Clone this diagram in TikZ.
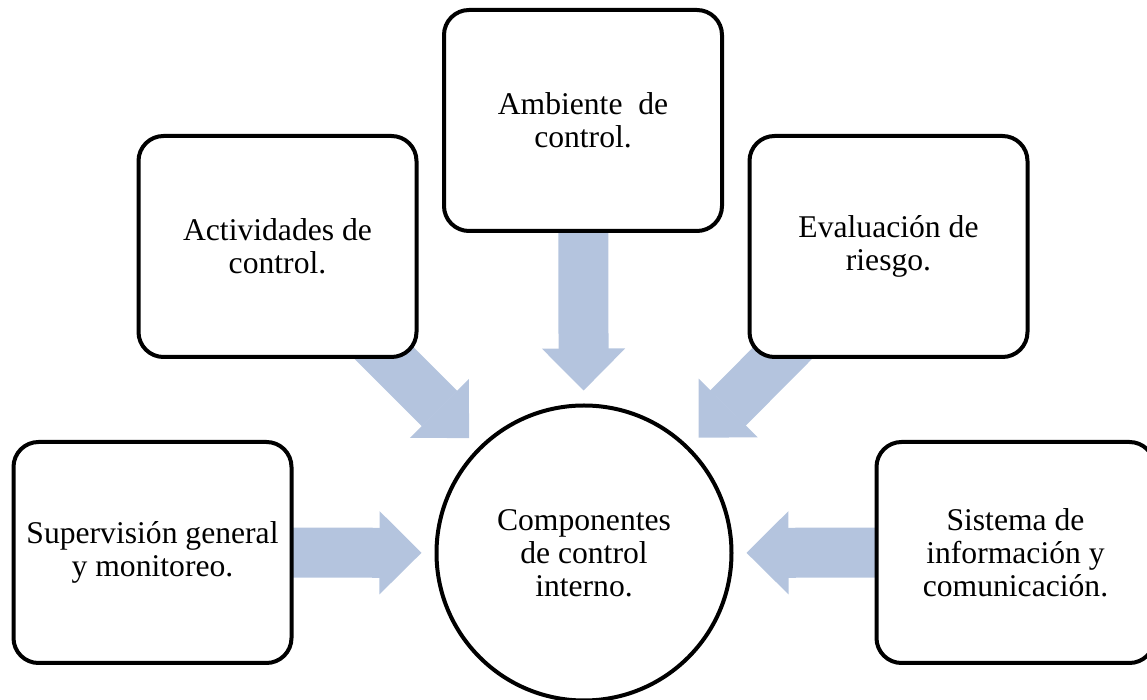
\documentclass[tikz,border=0pt]{standalone}
\usepackage{fontspec}
\setmainfont{Liberation Serif}
\usetikzlibrary{arrows.meta, backgrounds}
\definecolor{azulflecha}{RGB}{180,196,222}

\begin{document}
\begin{tikzpicture}[
  every node/.style = {font=\fontsize{18}{18.8}\selectfont},
  caja/.style = {draw, line width=0.08cm, rounded corners=0.5cm, fill=white, align=center, minimum width=5.56cm, minimum height=4.42cm},
  centro/.style = {draw, circle, line width=0.08cm, fill=white, align=center, minimum size=5.9cm, outer sep=0pt},
  flecha/.style = {draw=azulflecha, line width=1cm, shorten >=0.3cm, -{Triangle[length=0.84cm 0 0, width=1.66cm 0 0, line width=1pt 0 0]}}
]
  \useasboundingbox (0,0) rectangle (22.94,14);

  \node[centro] (cc) at (11.68,2.94) {Componentes\\de control\\interno.};

  \node[caja] (amb) at (11.66,11.59) {Ambiente\ \ de\\control.};
  \node[caja] (act) at (5.55,9.07) {Actividades de\\control.};
  \node[caja] (eva) at (17.77,9.07) {Evaluación de\\riesgo.};
  \node[caja] (sup) at (3.05,2.95) {Supervisión general\\y monitoreo.};
  \node[caja] (sis) at (20.31,2.95) {Sistema de\\información y\\comunicación.};

  \begin{scope}[on background layer]
    \draw[flecha] (amb.center) -- (cc);
    \draw[flecha] (act.center) -- (cc);
    \draw[flecha] (eva.center) -- (cc);
    \draw[flecha] (sup.center) -- (cc);
    \draw[flecha] (sis.center) -- (cc);
  \end{scope}
\end{tikzpicture}
\end{document}
